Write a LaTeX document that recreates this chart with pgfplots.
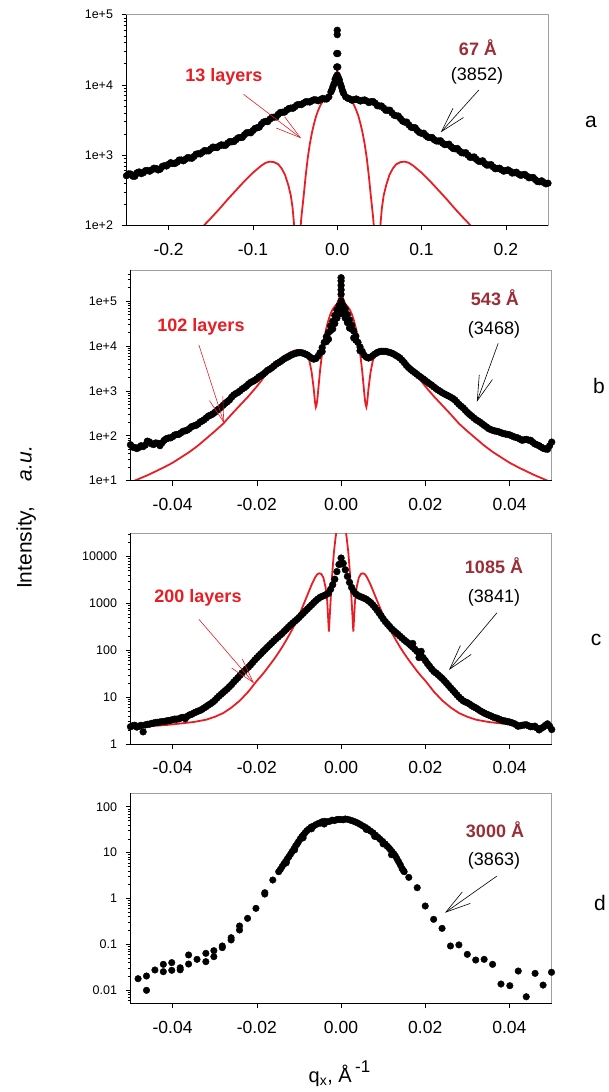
\documentclass[border=0pt]{standalone}
\usepackage{fontspec}
\setmainfont{Liberation Sans}
\usepackage{pgfplots}
\pgfplotsset{compat=1.18}
\usetikzlibrary{arrows.meta}
\definecolor{fitred}{RGB}{232,30,36}
\definecolor{thickc}{RGB}{155,45,55}
\begin{document}
\begin{tikzpicture}
\useasboundingbox (0,0) rectangle (608pt,-1092pt);
% ---------------- panel a
\begin{axis}[name=pa, scale only axis, anchor=north west, at={(126.5pt,-14.7pt)}, width=421.5pt, height=210.6pt,
  ymode=log, xmin=-0.25, xmax=0.25, ymin=100, ymax=100000, scaled x ticks=false,
  axis line style={draw=gray!75, line width=0.7pt},
  tick pos=left, tick align=outside, major tick length=5pt, minor tick length=3pt,
  tick style={black, line width=0.6pt},
  xticklabel style={font=\fontsize{17.5}{20}\selectfont, yshift=-9pt},
  yticklabel style={font=\fontsize{12.5}{14}\selectfont, xshift=-5pt},
  xtick={-0.2,-0.1,0,0.1,0.2}, xticklabels={-0.2,-0.1,0.0,0.1,0.2},
  ytick={100,1000,10000,100000}, yticklabels={1e+2,1e+3,1e+4,1e+5},
  minor ytick={200,300,400,500,600,700,800,900,2000,3000,4000,5000,6000,7000,8000,9000,20000,30000,40000,50000,60000,70000,80000,90000}]
\addplot[only marks, mark=*, mark size=3.4pt, black] coordinates {(-0.250,509)(-0.245,537)(-0.240,501)(-0.235,575)(-0.230,562)(-0.225,603)(-0.220,617)(-0.215,646)(-0.210,631)(-0.205,708)(-0.200,741)(-0.195,759)(-0.190,794)(-0.185,851)(-0.180,871)(-0.175,912)(-0.170,955)(-0.165,1047)(-0.160,1096)(-0.155,1148)(-0.150,1230)(-0.145,1288)(-0.140,1349)(-0.135,1380)(-0.130,1479)(-0.125,1549)(-0.120,1660)(-0.115,1778)(-0.110,1950)(-0.105,2089)(-0.100,2239)(-0.095,2455)(-0.090,2754)(-0.085,3020)(-0.080,3236)(-0.075,3467)(-0.070,3802)(-0.065,4074)(-0.060,4365)(-0.055,4677)(-0.050,4898)(-0.045,5248)(-0.040,5495)(-0.035,5754)(-0.030,5957)(-0.025,6095)(-0.020,6166)(-0.015,6310)(-0.010,6761)(-0.0075,7943)(-0.005,9550)(-0.0025,12020)(0,13800)(0.0025,11750)(0.005,9333)(0.0075,7586)(0.010,6761)(0.015,6310)(0.020,6166)(0.025,6095)(0.030,6026)(0.035,5888)(0.040,5754)(0.045,5495)(0.050,5012)(0.055,4677)(0.060,4365)(0.065,3981)(0.070,3631)(0.075,3311)(0.080,2951)(0.085,2692)(0.090,2455)(0.095,2239)(0.100,2042)(0.105,1905)(0.110,1778)(0.115,1660)(0.120,1585)(0.125,1479)(0.130,1413)(0.135,1318)(0.140,1230)(0.145,1148)(0.150,1072)(0.155,1000)(0.160,933)(0.165,871)(0.170,813)(0.175,759)(0.180,724)(0.185,676)(0.190,646)(0.195,617)(0.200,603)(0.205,589)(0.210,562)(0.215,537)(0.220,525)(0.225,501)(0.230,479)(0.235,447)(0.240,417)(0.245,407)(0.250,398)};
\addplot[only marks, mark=*, mark size=3.4pt, black] coordinates {(-0.2475,540)(-0.2425,500)(-0.2375,560)(-0.2325,545)(-0.2275,600)(-0.2225,590)(-0.2175,650)(-0.2125,615)(-0.2075,690)(-0.2025,700)(-0.1975,780)(-0.1925,760)(-0.1875,850)(-0.1825,830)(-0.1775,920)(-0.1725,900)(-0.1675,1030)(-0.1625,1040)(-0.1575,1160)(-0.1525,1150)(-0.1475,1300)(-0.1425,1280)(-0.1375,1400)(-0.1325,1380)(-0.1275,1560)(-0.1225,1560)(-0.1175,1760)(-0.1125,1790)(-0.1075,2080)(-0.1025,2080)(-0.0975,2400)(-0.0925,2500)(-0.0875,2950)(-0.0825,3000)(-0.0775,3450)(-0.0725,3500)(-0.0675,4050)(-0.0625,4100)(-0.0575,4600)(-0.0525,4650)(-0.0475,5200)(-0.0425,5250)(-0.0375,5750)(-0.0325,5700)(-0.0275,6150)(-0.0225,5950)(-0.0175,6400)(-0.0125,6300)(0.0125,6450)(0.0175,6050)(0.0225,6300)(0.0275,5900)(0.0325,6100)(0.0375,5600)(0.0425,5800)(0.0475,5050)(0.0525,5000)(0.0575,4350)(0.0625,4350)(0.0675,3700)(0.0725,3600)(0.0775,3050)(0.0825,2950)(0.0875,2500)(0.0925,2450)(0.0975,2100)(0.1025,2050)(0.1075,1800)(0.1125,1780)(0.1175,1590)(0.1225,1600)(0.1275,1410)(0.1325,1430)(0.1375,1240)(0.1425,1240)(0.1475,1080)(0.1525,1080)(0.1575,930)(0.1625,940)(0.1675,820)(0.1725,830)(0.1775,720)(0.1825,730)(0.1875,640)(0.1925,650)(0.1975,590)(0.2025,615)(0.2075,555)(0.2125,570)(0.2175,515)(0.2225,530)(0.2275,475)(0.2325,480)(0.2375,420)(0.2425,430)(0.2475,390)
(0,60000)(0,52000)(-0.0006,28000)(0.0006,28000)(-0.0006,18000)(0.0006,18000)(-0.0012,13000)(0.0012,12800)(-0.0037,10500)(0.0037,10300)(-0.0062,8600)(0.0062,8300)};
\addplot[no marks, fitred, line width=1.8pt] coordinates {(-0.170,56)(-0.165,79)(-0.158,100)(-0.150,126)(-0.140,170)(-0.130,234)(-0.120,316)(-0.110,427)(-0.100,562)(-0.090,708)(-0.085,776)(-0.080,807)(-0.075,794)(-0.070,741)(-0.066,646)(-0.062,525)(-0.058,372)(-0.055,263)(-0.053,178)(-0.0515,112)(-0.050,40)(-0.0485,6.3)(-0.047,1)(-0.046,10)(-0.044,79)(-0.0425,132)(-0.040,251)(-0.0375,501)(-0.035,912)(-0.0325,1445)(-0.030,2089)(-0.0275,2818)(-0.025,3631)(-0.0225,4365)(-0.020,5129)(-0.0175,5754)(-0.015,6310)(-0.0125,6761)(-0.010,7079)(-0.0075,7413)(-0.005,8128)(-0.003,9550)(-0.002,11480)(-0.001,14130)(0,16220)(0.001,14130)(0.002,11480)(0.003,9550)(0.005,8128)(0.0075,7413)(0.010,7079)(0.0125,6761)(0.015,6310)(0.0175,5754)(0.020,5129)(0.0225,4365)(0.025,3631)(0.0275,2818)(0.030,2089)(0.0325,1445)(0.035,912)(0.0375,501)(0.040,251)(0.0425,132)(0.044,79)(0.046,10)(0.047,1)(0.0485,6.3)(0.050,40)(0.0515,112)(0.053,178)(0.055,263)(0.058,372)(0.062,525)(0.066,646)(0.070,741)(0.075,794)(0.080,807)(0.085,776)(0.090,708)(0.100,562)(0.110,427)(0.120,316)(0.130,234)(0.140,170)(0.150,126)(0.158,100)(0.165,79)(0.170,56)};
\end{axis}
% ---------------- panel b
\begin{axis}[name=pb, scale only axis, anchor=north west, at={(130.5pt,-270pt)}, width=421.2pt, height=210.7pt,
  ymode=log, xmin=-0.05, xmax=0.05, ymin=10, ymax=492000, scaled x ticks=false,
  axis line style={draw=gray!75, line width=0.7pt},
  tick pos=left, tick align=outside, major tick length=5pt, minor tick length=3pt,
  tick style={black, line width=0.6pt},
  xticklabel style={font=\fontsize{17.5}{20}\selectfont, yshift=-9pt},
  yticklabel style={font=\fontsize{12.5}{14}\selectfont, xshift=-5pt},
  xtick={-0.04,-0.02,0,0.02,0.04}, xticklabels={-0.04,-0.02,0.00,0.02,0.04},
  ytick={10,100,1000,10000,100000}, yticklabels={1e+1,1e+2,1e+3,1e+4,1e+5},
  minor ytick={20,30,40,50,60,70,80,90,200,300,400,500,600,700,800,900,2000,3000,4000,5000,6000,7000,8000,9000,20000,30000,40000,50000,60000,70000,80000,90000,200000,300000,400000}]
\addplot[only marks, mark=*, mark size=3.4pt, black] coordinates {(-0.050,63.1)(-0.049,55.0)(-0.048,55.0)(-0.047,57.5)(-0.046,75.9)(-0.045,66.1)(-0.044,69.2)(-0.043,60.3)(-0.042,79.4)(-0.041,89.1)(-0.040,95.5)(-0.039,107)(-0.038,117)(-0.037,129)(-0.036,145)(-0.035,166)(-0.034,182)(-0.033,214)(-0.032,251)(-0.031,288)(-0.030,331)(-0.029,398)(-0.028,479)(-0.027,575)(-0.026,724)(-0.025,871)(-0.024,1000)(-0.023,1175)(-0.022,1413)(-0.021,1622)(-0.020,1862)(-0.019,2188)(-0.018,2570)(-0.017,3020)(-0.016,3548)(-0.015,4169)(-0.014,4786)(-0.013,5495)(-0.012,6166)(-0.011,6761)(-0.010,7079)(-0.009,6918)(-0.008,6310)(-0.007,5370)(-0.006,5248)(-0.005,7079)(-0.004,12020)(-0.003,19950)(-0.002,35480)(-0.001,63100)(0,100000)(0.001,66070)(0.002,38020)(0.003,21380)(0.004,12020)(0.005,7586)(0.006,5623)(0.007,5623)(0.008,6607)(0.009,7413)(0.010,7586)(0.011,7413)(0.012,6918)(0.013,6166)(0.014,5370)(0.015,4266)(0.016,3311)(0.017,2754)(0.018,2344)(0.019,1995)(0.020,1698)(0.021,1445)(0.022,1230)(0.023,1047)(0.024,912)(0.025,813)(0.026,724)(0.027,631)(0.028,501)(0.029,417)(0.030,331)(0.031,275)(0.032,229)(0.033,200)(0.034,170)(0.035,145)(0.036,132)(0.037,126)(0.038,117)(0.039,110)(0.040,105)(0.041,95.5)(0.042,89.1)(0.043,79.4)(0.044,83.2)(0.045,79.4)(0.046,66.1)(0.047,60.3)(0.048,52.5)(0.049,50.1)(0.050,72.4)
(-0.003,14130)(-0.002,23990)(-0.0015,31620)(-0.001,41690)(-0.0005,79430)(0,52480)(0.0005,79430)(0.001,41690)(0.0015,33110)(0.002,25120)(0.003,15140)
(-0.0025,22000)(0.0025,24000)(-0.0035,12500)(0.0035,13500)(-0.0045,7500)(0.0045,7800)
(0,141300)(0,177800)(0,223900)(0,281800)(0,331100)};
\addplot[only marks, mark=*, mark size=3.4pt, black] coordinates {(-0.0495,56)(-0.0485,52)(-0.0475,60)(-0.0465,62)(-0.0455,73)(-0.0445,64)(-0.0435,68)(-0.0425,70)(-0.0415,86)(-0.0405,90)(-0.0395,104)(-0.0385,108)(-0.0375,126)(-0.0365,134)(-0.0355,160)(-0.0345,170)(-0.0335,202)(-0.0325,228)(-0.0315,275)(-0.0305,305)(-0.0295,370)(-0.0285,430)(-0.0275,530)(-0.0265,630)(-0.0255,810)(-0.0245,920)(-0.0235,1100)(-0.0225,1270)(-0.0215,1540)(-0.0205,1720)(-0.0195,2050)(-0.0185,2350)(-0.0175,2850)(-0.0165,3250)(-0.0155,3900)(-0.0145,4450)(-0.0135,5200)(-0.0125,5800)(-0.0115,6500)(-0.0105,7000)(-0.0095,7100)(-0.0085,6600)(-0.0075,5800)(-0.0065,5100)(-0.0055,5900)(-0.0045,9200)(-0.0035,16000)(-0.0025,28000)(-0.0015,48000)(-0.0005,60000)(0.0005,60000)(0.0015,50000)(0.0025,29000)(0.0035,16500)(0.0045,9500)(0.0055,6200)(0.0065,5400)(0.0075,6100)(0.0085,7100)(0.0095,7600)(0.0105,7600)(0.0115,7200)(0.0125,6600)(0.0135,5800)(0.0145,4800)(0.0155,3700)(0.0165,3000)(0.0175,2550)(0.0185,2150)(0.0195,1850)(0.0205,1560)(0.0215,1340)(0.0225,1130)(0.0235,980)(0.0245,860)(0.0255,770)(0.0265,680)(0.0275,560)(0.0285,455)(0.0295,370)(0.0305,300)(0.0315,250)(0.0325,215)(0.0335,185)(0.0345,158)(0.0355,138)(0.0365,128)(0.0375,122)(0.0385,112)(0.0395,107)(0.0405,100)(0.0415,92)(0.0425,84)(0.0435,82)(0.0445,80)(0.0455,72)(0.0465,63)(0.0475,56)(0.0485,51)(0.0495,60)};
\addplot[no marks, fitred, line width=1.8pt] coordinates {(-0.050,9.12)(-0.048,11.0)(-0.046,13.2)(-0.044,16.2)(-0.042,20.0)(-0.040,25.1)(-0.038,33.1)(-0.036,43.7)(-0.034,60.3)(-0.032,87.1)(-0.030,126)(-0.028,186)(-0.026,302)(-0.024,479)(-0.022,759)(-0.020,1259)(-0.019,1660)(-0.018,2239)(-0.017,2818)(-0.016,3548)(-0.015,4467)(-0.014,5495)(-0.013,6457)(-0.012,7244)(-0.011,7943)(-0.010,8128)(-0.009,7762)(-0.008,6310)(-0.0075,4571)(-0.007,2630)(-0.0065,1122)(-0.0062,562)(-0.0060,437)(-0.0058,501)(-0.0056,708)(-0.0053,1413)(-0.005,2818)(-0.0045,7079)(-0.004,15140)(-0.0035,25120)(-0.003,38020)(-0.0025,52480)(-0.002,66070)(-0.0015,75860)(-0.001,85110)(-0.0005,112200)(0,158500)(0.0005,112200)(0.001,85110)(0.0015,75860)(0.002,66070)(0.0025,52480)(0.003,38020)(0.0035,25120)(0.004,15140)(0.0045,7079)(0.005,2818)(0.0053,1413)(0.0056,708)(0.0058,501)(0.0060,437)(0.0062,562)(0.0065,1122)(0.007,2630)(0.0075,4571)(0.008,6310)(0.009,7762)(0.010,8128)(0.011,7943)(0.012,7244)(0.013,6457)(0.014,5495)(0.015,4467)(0.016,3548)(0.017,2818)(0.018,2239)(0.019,1660)(0.020,1259)(0.022,759)(0.024,479)(0.026,302)(0.028,186)(0.030,126)(0.032,87.1)(0.034,60.3)(0.036,43.7)(0.038,33.1)(0.040,25.1)(0.042,20.0)(0.044,16.2)(0.046,13.2)(0.048,11.0)(0.050,9.12)};
\end{axis}
% ---------------- panel c
\begin{axis}[name=pc, scale only axis, anchor=north west, at={(130.5pt,-533.3pt)}, width=421.2pt, height=210.7pt,
  ymode=log, xmin=-0.05, xmax=0.05, ymin=1, ymax=31500, scaled x ticks=false,
  axis line style={draw=gray!75, line width=0.7pt},
  tick pos=left, tick align=outside, major tick length=5pt, minor tick length=3pt,
  tick style={black, line width=0.6pt},
  xticklabel style={font=\fontsize{17.5}{20}\selectfont, yshift=-9pt},
  yticklabel style={font=\fontsize{12.5}{14}\selectfont, xshift=-5pt},
  xtick={-0.04,-0.02,0,0.02,0.04}, xticklabels={-0.04,-0.02,0.00,0.02,0.04},
  ytick={1,10,100,1000,10000}, yticklabels={1,10,100,1000,10000},
  minor ytick={2,3,4,5,6,7,8,9,20,30,40,50,60,70,80,90,200,300,400,500,600,700,800,900,2000,3000,4000,5000,6000,7000,8000,9000,20000,30000}]
\addplot[only marks, mark=*, mark size=3.4pt, black] coordinates {(-0.050,2.34)(-0.049,2.51)(-0.048,2.40)(-0.047,1.82)(-0.046,2.63)(-0.045,2.75)(-0.044,2.88)(-0.043,2.95)(-0.042,3.02)(-0.041,3.16)(-0.040,3.31)(-0.039,3.39)(-0.038,3.63)(-0.037,3.47)(-0.036,4.17)(-0.035,4.57)(-0.034,5.01)(-0.033,5.50)(-0.032,6.31)(-0.031,7.24)(-0.030,8.51)(-0.029,10.5)(-0.028,12.6)(-0.027,15.1)(-0.026,18.6)(-0.025,23.4)(-0.024,29.5)(-0.023,36.3)(-0.022,43.7)(-0.021,55.0)(-0.020,69.2)(-0.019,85.1)(-0.018,105)(-0.017,129)(-0.016,158)(-0.015,191)(-0.014,229)(-0.013,282)(-0.012,347)(-0.011,417)(-0.010,501)(-0.009,617)(-0.008,759)(-0.007,933)(-0.006,1148)(-0.005,1349)(-0.004,1479)(-0.003,1660)(-0.002,2512)(-0.001,4786)(0,9333)(0.001,5248)(0.002,2818)(0.003,1820)(0.004,1479)(0.005,1349)(0.006,1230)(0.007,1047)(0.008,832)(0.009,631)(0.010,468)(0.011,363)(0.012,288)(0.013,240)(0.014,200)(0.015,166)(0.016,141)(0.017,117)(0.018,95.5)(0.019,77.6)(0.020,60.3)(0.021,45.7)(0.022,35.5)(0.023,30.2)(0.024,25.1)(0.025,20.0)(0.026,15.8)(0.027,12.6)(0.028,10.0)(0.029,8.32)(0.030,7.59)(0.031,6.61)(0.032,5.89)(0.033,5.13)(0.034,4.57)(0.035,4.17)(0.036,3.80)(0.037,3.55)(0.038,3.24)(0.039,3.09)(0.040,2.95)(0.041,2.75)(0.042,2.40)(0.043,2.51)(0.044,2.57)(0.045,2.34)(0.046,2.40)(0.047,2.00)(0.048,2.29)(0.049,2.69)(0.050,2.04)
(-0.0005,6800)(0.0005,7200)(0,7000)(-0.0015,3300)(0.0015,3800)(0.017,140)(0.019,95)(0.0185,70)};
\addplot[only marks, mark=*, mark size=3.4pt, black] coordinates {(-0.0495,2.45)(-0.0485,2.30)(-0.0475,2.50)(-0.0465,2.55)(-0.0455,2.65)(-0.0445,2.80)(-0.0435,2.90)(-0.0425,3.0)(-0.0415,3.10)(-0.0405,3.20)(-0.0395,3.40)(-0.0385,3.45)(-0.0375,3.70)(-0.0365,3.90)(-0.0355,4.30)(-0.0345,4.80)(-0.0335,5.20)(-0.0325,5.90)(-0.0315,6.80)(-0.0305,7.80)(-0.0295,9.5)(-0.0285,11.5)(-0.0275,13.8)(-0.0265,16.8)(-0.0255,21)(-0.0245,26)(-0.0235,33)(-0.0225,40)(-0.0215,49)(-0.0205,62)(-0.0195,77)(-0.0185,95)(-0.0175,117)(-0.0165,143)(-0.0155,175)(-0.0145,210)(-0.0135,255)(-0.0125,315)(-0.0115,380)(-0.0105,455)(-0.0095,560)(-0.0085,690)(-0.0075,845)(-0.0065,1040)(-0.0055,1250)(-0.0045,1420)(-0.0035,1560)(-0.0025,2000)(0.0025,2200)(0.0035,1600)(0.0045,1410)(0.0055,1290)(0.0065,1140)(0.0075,940)(0.0085,730)(0.0095,545)(0.0105,410)(0.0115,325)(0.0125,262)(0.0135,220)(0.0145,182)(0.0155,153)(0.0165,128)(0.0175,106)(0.0185,86)(0.0195,69)(0.0205,52)(0.0215,40)(0.0225,33)(0.0235,27.5)(0.0245,22.5)(0.0255,17.8)(0.0265,14.1)(0.0275,11.2)(0.0285,9.1)(0.0295,7.9)(0.0305,7.1)(0.0315,6.2)(0.0325,5.5)(0.0335,4.85)(0.0345,4.35)(0.0355,4.0)(0.0365,3.65)(0.0375,3.4)(0.0385,3.15)(0.0395,3.0)(0.0405,2.85)(0.0415,2.6)(0.0425,2.45)(0.0435,2.55)(0.0445,2.45)(0.0455,2.35)(0.0465,2.2)(0.0475,2.15)(0.0485,2.5)(0.0495,2.4)};
\addplot[no marks, fitred, line width=1.8pt] coordinates {(-0.050,2.29)(-0.047,2.34)(-0.044,2.45)(-0.041,2.57)(-0.038,2.75)(-0.035,2.95)(-0.032,3.31)(-0.030,3.80)(-0.028,4.57)(-0.026,6.03)(-0.024,8.51)(-0.022,13.2)(-0.020,22.4)(-0.019,28.2)(-0.018,36.3)(-0.017,47.9)(-0.016,63.1)(-0.015,85.1)(-0.014,117)(-0.013,166)(-0.012,240)(-0.011,355)(-0.010,550)(-0.009,912)(-0.008,1514)(-0.007,2512)(-0.0062,3548)(-0.0057,4169)(-0.0052,4416)(-0.0047,4266)(-0.0042,3548)(-0.0037,2239)(-0.0033,1122)(-0.0029,251)(-0.0025,1122)(-0.0021,4467)(-0.0017,12590)(-0.0013,26300)(-0.001,39810)(-0.0006,56230)(0,70790)(0.0006,56230)(0.001,39810)(0.0013,26300)(0.0017,12590)(0.0021,4467)(0.0025,1122)(0.0029,251)(0.0033,1122)(0.0037,2239)(0.0042,3548)(0.0047,4266)(0.0052,4416)(0.0057,4169)(0.0062,3548)(0.007,2512)(0.008,1514)(0.009,912)(0.010,550)(0.011,355)(0.012,240)(0.013,166)(0.014,117)(0.015,85.1)(0.016,63.1)(0.017,47.9)(0.018,36.3)(0.019,28.2)(0.020,22.4)(0.022,13.2)(0.024,8.51)(0.026,6.03)(0.028,4.57)(0.030,3.80)(0.032,3.31)(0.035,2.95)(0.038,2.75)(0.041,2.57)(0.044,2.45)(0.047,2.34)(0.050,2.29)};
\end{axis}
% ---------------- panel d
\begin{axis}[name=pd, scale only axis, anchor=north west, at={(130.5pt,-793.3pt)}, width=421pt, height=210pt,
  ymode=log, xmin=-0.05, xmax=0.05, ymin=0.00521, ymax=196, scaled x ticks=false,
  axis line style={draw=gray!75, line width=0.7pt},
  tick pos=left, tick align=outside, major tick length=5pt, minor tick length=3pt,
  tick style={black, line width=0.6pt},
  xticklabel style={font=\fontsize{17.5}{20}\selectfont, yshift=-9pt},
  yticklabel style={font=\fontsize{12.5}{14}\selectfont, xshift=-5pt},
  xtick={-0.04,-0.02,0,0.02,0.04}, xticklabels={-0.04,-0.02,0.00,0.02,0.04},
  ytick={0.01,0.1,1,10,100}, yticklabels={0.01,0.1,1,10,100},
  minor ytick={0.006,0.007,0.008,0.009,0.02,0.03,0.04,0.05,0.06,0.07,0.08,0.09,0.2,0.3,0.4,0.5,0.6,0.7,0.8,0.9,2,3,4,5,6,7,8,9,20,30,40,50,60,70,80,90}]
\addplot[only marks, mark=*, mark size=3.3pt, black] coordinates {(-0.0482,0.0179)(-0.0462,0.0205)(-0.0462,0.0100)(-0.0442,0.0277)(-0.0422,0.0368)(-0.0422,0.0255)(-0.0402,0.0401)(-0.0402,0.0273)(-0.0382,0.0310)(-0.0382,0.0280)(-0.0362,0.0589)(-0.0362,0.0374)(-0.0342,0.0473)(-0.0321,0.0640)(-0.0321,0.0421)(-0.0302,0.0731)(-0.0302,0.0541)(-0.0282,0.0925)(-0.0282,0.0850)(-0.0261,0.140)(-0.0261,0.125)(-0.0241,0.252)(-0.0241,0.206)(-0.0222,0.370)(-0.0202,0.611)(-0.0181,1.34)(-0.0181,1.25)(-0.0162,2.53)
(-0.0148,3.84)(-0.0144,4.3)(-0.0140,4.93)(-0.0136,5.6)(-0.0132,6.3)(-0.0128,7.2)(-0.0124,8.1)(-0.0120,9.2)(-0.0116,10.5)(-0.0112,12.0)(-0.0108,13.9)(-0.0104,15.5)(-0.0101,17.3)(-0.0097,19.8)(-0.0093,22.3)(-0.0089,24.5)(-0.0085,27.2)(-0.0081,30)(-0.0077,32.2)(-0.0071,36)(-0.0065,38)(-0.0059,41)(-0.0053,43.5)(-0.0049,44)(-0.0045,47)(-0.0040,42)(-0.0039,48)(-0.0033,47)(-0.0027,48)(-0.0021,51)(-0.0015,50)(-0.0010,52.5)(-0.0005,53)(0,52.5)(0.0005,52)(0.0010,54)(0.0016,53)(0.0022,51)(0.0028,49)(0.0034,46.6)(0.0040,44)(0.0046,41)(0.0052,38)(0.0058,35.5)(0.0064,32.5)(0.0070,29.5)(0.0076,27)(0.0082,24)(0.0088,21.5)(0.0093,19.5)(0.0099,17.5)(0.0105,15.4)(0.0109,14)(0.0113,12.9)(0.0117,11.7)(0.0121,10.5)(0.0125,9.5)(0.0129,8.5)(0.0133,7.3)(0.0137,6.3)(0.0141,5.4)(0.0145,4.5)(0.0148,4.1)(0.0150,3.84)
(-0.0130,6.0)(-0.0110,11.5)(-0.0090,21)(-0.0070,33)(0.0060,32)(0.0080,22.5)(0.0100,15.5)(0.0120,9.0)
(0.0161,2.89)(0.0181,1.72)(0.0200,0.687)(0.0220,0.352)(0.0240,0.224)(0.0260,0.0925)(0.0280,0.0977)(0.0300,0.0608)(0.0320,0.0457)(0.0340,0.0473)(0.0360,0.0368)(0.0380,0.0137)(0.0401,0.0126)(0.0421,0.0263)(0.0440,0.00724)(0.0461,0.0234)(0.0480,0.0130)(0.0500,0.0247)};
\end{axis}
% left/bottom frame lines in black
\foreach \p in {pa,pb,pc,pd} {
  \draw[black, line width=0.8pt] (\p.north west) -- (\p.south west) -- (\p.south east);
}
% ---------------- annotations
\begin{scope}[x=1pt,y=-1pt]
\tikzset{lab/.style={inner sep=0pt, font=\fontsize{18}{20}\selectfont},
         rl/.style={inner sep=0pt, font=\fontsize{18}{20}\selectfont\bfseries, text=fitred},
         th/.style={inner sep=0pt, font=\fontsize{18}{20}\selectfont\bfseries, text=thickc},
         pl/.style={inner sep=0pt, font=\fontsize{21}{24}\selectfont},
         ar/.style={line width=0.6pt, -{Straight Barb[length=25pt,width=14pt]}}}
% a
\node[rl] at (224,76.7) {13 layers};
\node[th] at (478,48) {67 Å};
\node[lab] at (477,76) {(3852)};
\node[pl] at (591,122) {a};
\draw[ar, black] (478.8,90) -- (440.8,132.3);
\draw[ar, fitred] (243.5,94.3) -- (301.2,138.3);
% b
\node[rl] at (201,327) {102 layers};
\node[th] at (495,298) {543 Å};
\node[lab] at (494,330) {(3468)};
\node[pl] at (599,385.7) {b};
\draw[ar, black] (498.2,343.3) -- (476.9,401.7);
\draw[ar, fitred] (198.9,345) -- (224.1,423.3);
% c
\node[rl] at (198,598.3) {200 layers};
\node[th] at (494,566) {1085 Å};
\node[lab] at (494,598) {(3841)};
\node[pl] at (596,640) {c};
\draw[ar, black] (497,612.7) -- (449,670);
\draw[ar, fitred] (198.9,619.3) -- (254,683.3);
% d
\node[th] at (495,830) {3000 Å};
\node[lab] at (494,861) {(3863)};
\node[pl] at (600,902.7) {d};
\draw[ar, black] (497,876) -- (445,912.7);
% axis labels
\node[rotate=90, anchor=base, inner sep=0pt, font=\fontsize{21}{24}\selectfont] at (31.5,517.5) {Intensity,\hspace{1.2em}\textit{a.u.}};
\node[anchor=base, inner sep=0pt, font=\fontsize{20}{24}\selectfont] at (339.5,1082) {q\textsubscript{x}, Å\,\raisebox{0.5em}{\fontsize{17}{20}\selectfont -1}};
\end{scope}
\end{tikzpicture}
\end{document}
